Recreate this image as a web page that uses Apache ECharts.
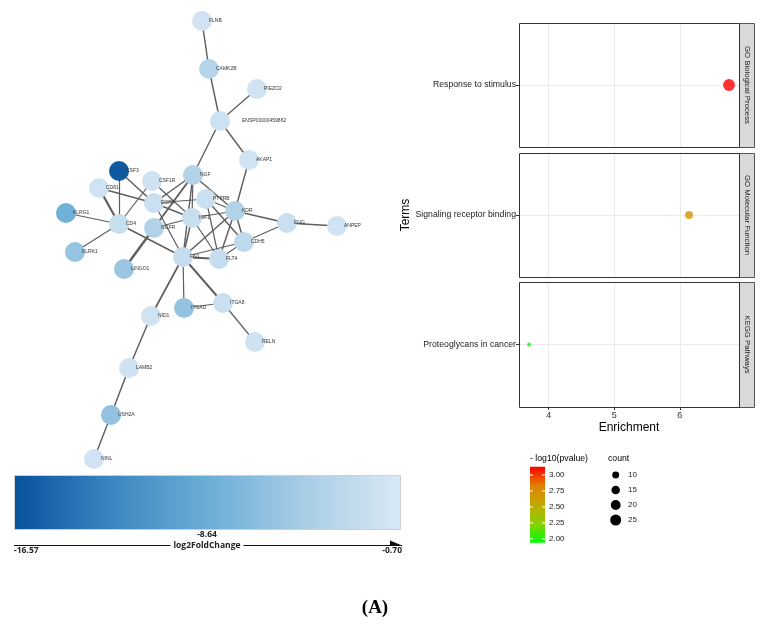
<!DOCTYPE html>
<html><head><meta charset="utf-8">
<script src="https://cdn.jsdelivr.net/npm/echarts@6/dist/echarts.min.js"></script>
<style>html,body{margin:0;padding:0;background:#fff}#c{width:773px;height:625px}</style>
</head><body><div id="c"></div>
<script>
// ---------- Network (PPI) data ----------
const nodeNames = ['FLNB','CAMK2B','PIEZO2','ENSP00000459862','AKAP1','CSF3','CD81','CSF1R','NGF','PTPRB','EGFR','KDR','KLRG1','CD4','IGF1','NGFR','ENG','ANPEP','CDH5','KLRK1','LINGO1','FN1','FLT4','ITGAD','ITGA8','NID1','RELN','LAMB2','USH2A','NINL'];
// layout positions (network layout units)
const nodeX = [202,209,257,220,249,119,99,152,193,206,154,235,66,119,192,154,287,337,244,75,124,183,219,184,223,151,255,129,111,94];
const nodeY = [21,69,89,121,160,171,188,181,175,199,203,211,213,224,218,228,223,226,242,252,269,257,259,308,303,316,342,368,415,459];
// log2FoldChange per node
const nodeFC = [-1.4,-3.6,-1.4,-1.8,-1.5,-16.0,-1.5,-1.6,-3.8,-2.0,-2.0,-3.9,-8.3,-2.2,-2.2,-3.9,-2.0,-1.5,-3.0,-5.8,-5.6,-2.3,-2.3,-6.0,-2.0,-1.5,-1.6,-1.6,-6.1,-1.4];
const edgeSource = ['FLNB','CAMK2B','PIEZO2','ENSP00000459862','ENSP00000459862','AKAP1','CSF3','CSF3','CD81','CD81','CSF1R','CSF1R','KLRG1','KLRK1','CD4','NGF','NGF','NGF','NGF','NGF','PTPRB','PTPRB','PTPRB','PTPRB','EGFR','EGFR','IGF1','IGF1','IGF1','IGF1','KDR','KDR','KDR','KDR','ENG','ENG','CDH5','CDH5','FLT4','NGFR','FN1','FN1','FN1','ITGAD','ITGA8','NID1','LAMB2','USH2A'];
const edgeTarget = ['CAMK2B','ENSP00000459862','ENSP00000459862','AKAP1','NGF','KDR','CD4','EGFR','CD4','EGFR','CD4','IGF1','CD4','CD4','FN1','EGFR','NGFR','IGF1','KDR','FN1','EGFR','KDR','CDH5','FLT4','IGF1','FN1','KDR','NGFR','FN1','FLT4','ENG','CDH5','FLT4','FN1','ANPEP','CDH5','FN1','FLT4','FN1','LINGO1','NID1','ITGAD','ITGA8','ITGA8','RELN','LAMB2','USH2A','NINL'];
const edgeScore = [0.6,0.6,0.5,0.6,0.6,0.6,0.5,0.6,0.9,0.6,0.5,0.5,0.5,0.5,0.6,0.6,0.8,0.5,0.6,0.6,0.5,0.5,0.6,0.5,0.6,0.5,0.5,0.5,0.6,0.5,0.6,0.6,0.6,0.6,0.7,0.5,0.5,0.5,0.8,1.0,0.7,0.5,0.8,0.5,0.5,0.6,0.6,0.6];
const fcMin = -16.57, fcMax = -0.70, fcMid = -8.64;

// ---------- Enrichment data ----------
const terms = ['Response to stimulus','Signaling receptor binding','Proteoglycans in cancer'];
const categories = ['GO Biological Process','GO Molecular Function','KEGG Pathways'];
const enrichment = [6.75, 6.14, 3.70];
const negLog10P = [3.13, 2.68, 1.94];
const counts = [29, 13, 3];
const pTicks = [3.00, 2.75, 2.50, 2.25, 2.00];
const countBreaks = [10, 15, 20, 25];
const xTicks = [4, 5, 6];

// ---------- styles ----------
const fcColors = ['#08519c','#3a86c1','#6baed6','#a9cde5','#dae8f5'];
const pColors = ['#00ff00','#8ad000','#bfaa00','#e48000','#ff0000'];
const pMin = 1.94, pMax = 3.13;
const sizeFor = c => Math.sqrt(c) * 2.2;

const panelLeft = 519, panelW = 220;
const panelTops = [23, 153, 282];
const panelH = [124, 124, 125];

const grids = panelTops.map((t, i) => ({left: panelLeft, top: t, width: panelW, height: panelH[i], show: false}));
grids.push({left: 0, top: 0, width: 400, height: 470, show: false});

const xAxes = [0,1,2].map(i => ({
  type: 'value', gridIndex: i, min: 3.5475, max: 6.9025, splitNumber: 6,
  axisLine: {show: false},
  axisTick: {show: i === 2, customValues: xTicks, length: 3, lineStyle: {color: '#333', width: 1}},
  axisLabel: {show: i === 2, customValues: xTicks, fontSize: 9, color: '#333', margin: 4, fontFamily: 'Liberation Sans'},
  splitLine: {show: true, lineStyle: {color: '#ebebeb', width: 1}},
  name: i === 2 ? 'Enrichment' : '', nameLocation: 'middle', nameGap: 15,
  nameTextStyle: {fontSize: 12, color: '#000', fontFamily: 'Liberation Sans'}
}));
xAxes.push({type: 'value', gridIndex: 3, min: 0, max: 400, show: false});

const yAxes = [0,1,2].map(i => ({
  type: 'category', gridIndex: i, data: [terms[i]],
  axisLine: {show: false},
  axisTick: {show: true, alignWithLabel: true, length: 3, lineStyle: {color: '#333', width: 1}},
  axisLabel: {fontSize: 8.7, color: '#222', margin: 3, fontFamily: 'Liberation Sans'},
  splitLine: {show: false},
  name: i === 1 ? 'Terms' : '', nameLocation: 'middle', nameGap: 104,
  nameTextStyle: {fontSize: 12, color: '#000', fontFamily: 'Liberation Sans'}
}));
yAxes.push({type: 'value', gridIndex: 3, min: 0, max: 470, inverse: true, show: false});

const scatterSeries = [0,1,2].map(i => ({
  type: 'scatter', xAxisIndex: i, yAxisIndex: i, z: 10,
  data: [[enrichment[i], terms[i], negLog10P[i], counts[i]]],
  symbolSize: v => sizeFor(v[3]),
  markLine: {silent: true, symbol: ['none','none'], z: 1, label: {show: false},
    lineStyle: {color: '#ebebeb', width: 1, type: 'solid'}, data: [{yAxis: terms[i]}]}
}));

// edges: graph series (nodes invisible; drawn by the scatter layer on top)
const graphNodes = nodeNames.map((n, i) => ({name: n, value: [nodeX[i], nodeY[i]]}));
const graphLinks = edgeSource.map((s, i) => ({source: s, target: edgeTarget[i], lineStyle: {width: edgeScore[i] * 2.4}}));
const graphSeries = {
  type: 'graph', coordinateSystem: 'cartesian2d', xAxisIndex: 3, yAxisIndex: 3, z: 2,
  symbol: 'none', symbolSize: 0, data: graphNodes, links: graphLinks,
  lineStyle: {color: '#5e5e5e', opacity: 1},
  label: {show: false}, emphasis: {disabled: true}, silent: true
};
// nodes: scatter coloured by log2FoldChange
const nodeSeries = {
  type: 'scatter', xAxisIndex: 3, yAxisIndex: 3, z: 5, symbolSize: 20,
  data: nodeNames.map((n, i) => ({name: n, value: [nodeX[i], nodeY[i], nodeFC[i]],
    label: n.length > 10 ? {distance: 12} : undefined})),
  itemStyle: {opacity: 1},
  label: {show: true, position: 'right', distance: -3, fontSize: 5, color: '#333', fontFamily: 'Liberation Sans', formatter: p => p.name},
  emphasis: {disabled: true}
};

// ---------- graphics (frames, strips, legends) ----------
const g = [];
panelTops.forEach((t, i) => {
  g.push({type: 'rect', z: 50, shape: {x: panelLeft + 0.5, y: t + 0.5, width: panelW, height: panelH[i]},
    style: {fill: null, stroke: '#333', lineWidth: 1}});
  g.push({type: 'rect', z: 49, shape: {x: panelLeft + panelW + 0.5, y: t + 0.5, width: 15, height: panelH[i]},
    style: {fill: '#d9d9d9', stroke: '#555', lineWidth: 1}});
  g.push({type: 'text', z: 51, x: panelLeft + panelW + 8, y: t + panelH[i] / 2, rotation: -Math.PI / 2,
    style: {text: categories[i], fontSize: 7.8, fill: '#1a1a1a', align: 'center', verticalAlign: 'middle', fontFamily: 'Liberation Sans'}});
});

// p-value colorbar
const pbX = 530, pbY = 466.7, pbW = 15, pbH = 76;
g.push({type: 'text', left: 530, top: 454, style: {text: '- log10(pvalue)', fontSize: 8.7, fill: '#000', fontFamily: 'Liberation Sans'}});
g.push({type: 'rect', shape: {x: pbX, y: pbY, width: pbW, height: pbH},
  style: {fill: new echarts.graphic.LinearGradient(0, 0, 0, 1, pColors.slice().reverse().map((c, k) => ({offset: k / (pColors.length - 1), color: c})))}});
pTicks.forEach(v => {
  const y = pbY + (pMax - v) / (pMax - pMin) * pbH;
  g.push({type: 'line', z: 20, shape: {x1: pbX, y1: y, x2: pbX + 3, y2: y}, style: {stroke: '#fff', lineWidth: 1}});
  g.push({type: 'line', z: 20, shape: {x1: pbX + pbW - 3, y1: y, x2: pbX + pbW, y2: y}, style: {stroke: '#fff', lineWidth: 1}});
  g.push({type: 'text', x: 549, y: y, style: {text: v.toFixed(2), fontSize: 8, fill: '#1a1a1a', verticalAlign: 'middle', fontFamily: 'Liberation Sans'}});
});
// count legend
g.push({type: 'text', left: 608, top: 454, style: {text: 'count', fontSize: 8.7, fill: '#000', fontFamily: 'Liberation Sans'}});
countBreaks.forEach((c, k) => {
  const y = 475 + k * 15;
  g.push({type: 'circle', shape: {cx: 615.7, cy: y, r: sizeFor(c) / 2}, style: {fill: '#000'}});
  g.push({type: 'text', x: 628, y: y, style: {text: String(c), fontSize: 8, fill: '#1a1a1a', verticalAlign: 'middle', fontFamily: 'Liberation Sans'}});
});

// log2FoldChange colorbar
const fbX = 14, fbY = 475, fbW = 386, fbH = 54;
g.push({type: 'rect', shape: {x: fbX + 0.5, y: fbY + 0.5, width: fbW, height: fbH},
  style: {fill: new echarts.graphic.LinearGradient(0, 0, 1, 0, fcColors.map((c, k) => ({offset: k / (fcColors.length - 1), color: c}))), stroke: '#cfcfcf', lineWidth: 1}});
g.push({type: 'line', shape: {x1: fbX, y1: 545.5, x2: fbX + fbW + 2, y2: 545.5}, style: {stroke: '#111', lineWidth: 1}});
g.push({type: 'polygon', shape: {points: [[fbX + fbW - 10, 540.5], [fbX + fbW + 2, 545.5], [fbX + fbW - 10, 545.5]]}, style: {fill: '#111'}});
const fcFont = {fontSize: 8.5, fill: '#222', fontWeight: 'bold', fontFamily: 'Open Sans'};
g.push({type: 'text', z: 10, x: fbX + fbW / 2, y: 535, style: Object.assign({text: fcMid.toFixed(2), align: 'center', verticalAlign: 'middle'}, fcFont)});
g.push({type: 'text', z: 10, x: fbX + fbW / 2, y: 545.5, style: Object.assign({text: 'log2FoldChange', align: 'center', verticalAlign: 'middle', backgroundColor: '#fff', padding: [0, 3]}, fcFont)});
g.push({type: 'text', z: 10, x: fbX, y: 551, style: Object.assign({text: fcMin.toFixed(2), align: 'left', verticalAlign: 'middle'}, fcFont)});
g.push({type: 'text', z: 10, x: fbX + fbW + 2, y: 551, style: Object.assign({text: fcMax.toFixed(2), align: 'right', verticalAlign: 'middle'}, fcFont)});
g.push({type: 'text', x: 375, y: 608, style: {text: '(A)', fontSize: 19, fontWeight: 'bold', fill: '#000', align: 'center', verticalAlign: 'middle', fontFamily: 'Liberation Serif'}});

const chart = echarts.init(document.getElementById('c'), null, {renderer: 'canvas'});
chart.setOption({
  animation: false,
  backgroundColor: '#fff',
  grid: grids,
  xAxis: xAxes,
  yAxis: yAxes,
  visualMap: [
    {type: 'continuous', show: false, seriesIndex: [0,1,2], dimension: 2, min: pMin, max: pMax, inRange: {color: pColors}},
    {type: 'continuous', show: false, seriesIndex: 4, dimension: 2, min: fcMin, max: fcMax, inRange: {color: fcColors}}
  ],
  series: scatterSeries.concat([graphSeries, nodeSeries]),
  graphic: g
});
</script>
</body></html>
